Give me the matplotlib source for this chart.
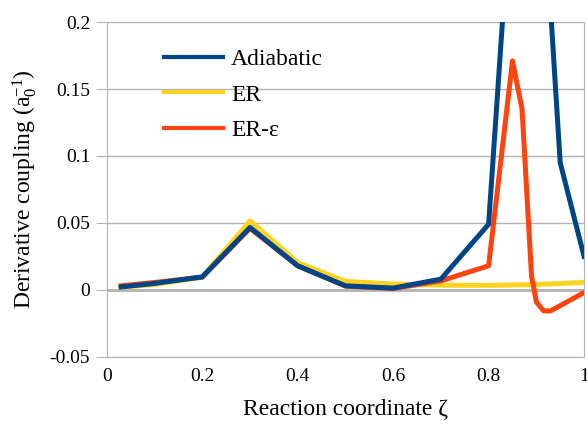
import numpy as np
import matplotlib
matplotlib.use('Agg')
import matplotlib.pyplot as plt

# Données
x_adia = [0.03, 0.1, 0.2, 0.3, 0.4, 0.5, 0.6, 0.7, 0.8, 0.85, 0.9, 0.95, 1.0]
y_adia = [0.0022, 0.0048, 0.0097, 0.0466, 0.0179, 0.003, 0.0013, 0.008, 0.049, 0.31, 0.38, 0.095, 0.025]

x_er = [0.03, 0.1, 0.2, 0.3, 0.4, 0.5, 0.6, 0.7, 0.8, 0.9, 1.0]
y_er = [0.002, 0.004, 0.0095, 0.0515, 0.0204, 0.0063, 0.0043, 0.0035, 0.0033, 0.004, 0.0055]

x_ere = [0.03, 0.1, 0.2, 0.3, 0.4, 0.5, 0.6, 0.7, 0.8, 0.85, 0.87, 0.89, 0.9, 0.915, 0.93, 1.0]
y_ere = [0.003, 0.0055, 0.0095, 0.046, 0.018, 0.0028, 0.001, 0.0067, 0.018, 0.171, 0.135, 0.01, -0.009, -0.0157, -0.0157, -0.002]

plt.rcParams['font.family'] = ['Liberation Serif', 'DejaVu Serif']
plt.rcParams['mathtext.fontset'] = 'custom'
plt.rcParams['mathtext.rm'] = 'Liberation Serif'

fig = plt.figure(figsize=(5.87, 4.33), dpi=100)
ax = fig.add_axes([0.182, 0.176, 0.813, 0.773])

grid_c = '#b3b3b3'
ax.plot(x_ere, y_ere, color='#ff420e', lw=3.6, label='ER-ε', zorder=3)
ax.plot(x_er, y_er, color='#ffd320', lw=3.6, label='ER', zorder=2)
ax.plot(x_adia, y_adia, color='#004586', lw=3.6, label='Adiabatic', zorder=4)

ax.set_xlim(0, 1)
ax.set_ylim(-0.05, 0.2)
ax.set_yticks([-0.05, 0, 0.05, 0.1, 0.15, 0.2])
ax.set_yticklabels(['-0.05', '0', '0.05', '0.1', '0.15', '0.2'])
ax.set_xticks([0, 0.2, 0.4, 0.6, 0.8, 1])
ax.set_xticklabels(['0', '0.2', '0.4', '0.6', '0.8', '1'])
ax.yaxis.grid(True, color=grid_c, lw=1)
ax.axhline(0, color=grid_c, lw=2, zorder=1)
ax.tick_params(axis='y', length=8, color=grid_c, labelsize=14, pad=4)
ax.tick_params(axis='x', length=0, labelsize=14, pad=8)
for s in ['left', 'right', 'bottom']:
    ax.spines[s].set_color(grid_c)
ax.spines['top'].set_visible(False)

ax.set_xlabel('Reaction coordinate ζ', fontsize=17, labelpad=10)
ax.set_ylabel(r'Derivative coupling ($\mathregular{a_0^{-1}}$)', fontsize=17, labelpad=8)

h, l = ax.get_legend_handles_labels()
order = [2, 1, 0]
leg = ax.legend([h[i] for i in order], [l[i] for i in order], loc='upper left',
                bbox_to_anchor=(0.075, 0.985), frameon=False, fontsize=17,
                handlelength=2.5, handletextpad=0.35, labelspacing=0.6)
for line in leg.get_lines():
    line.set_linewidth(3)

fig.savefig('out.png', dpi=100)
